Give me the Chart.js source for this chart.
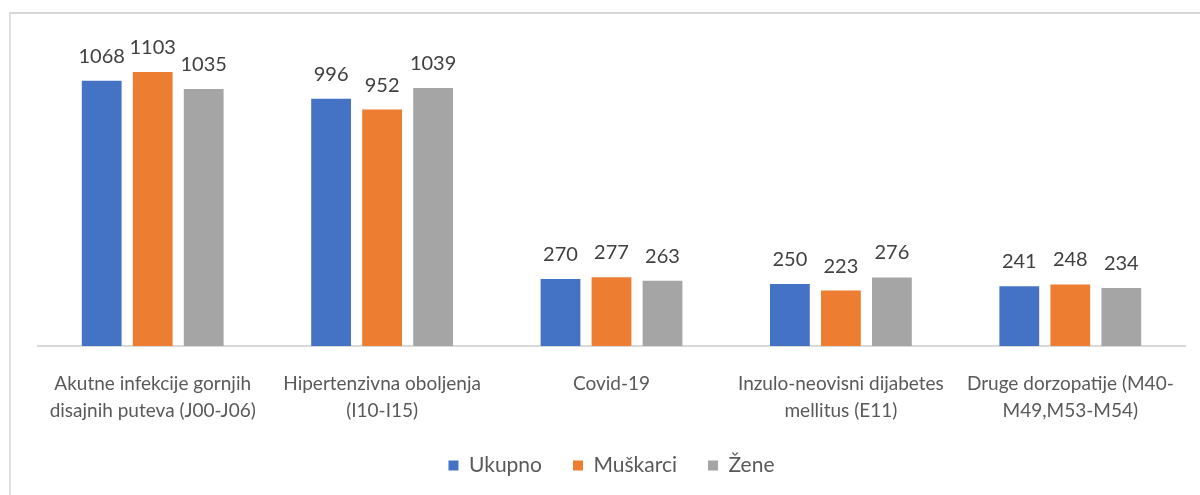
<!DOCTYPE html>
<html>
<head>
  <meta charset="UTF-8">
  <title>Oboljenja po polu</title>
  <script src="https://cdn.jsdelivr.net/npm/chart.js"></script>
  <style>
    body {
      margin: 0;
      background: white;
      font-family: Lato, Arial;
    }

    .frame {
      position: absolute;
      left: 9px;
      top: 12px;
      width: 1220px;
      height: 520px;
      border-top: 2px solid #d6d6d6;
      border-left: 2px solid #e0e0e0;
    }

    .wrap {
      position: absolute;
      left: 0;
      top: 0;
      width: 1200px;
      height: 495px;
    }
  </style>
</head>
<body>

  <div class="frame"></div>
  <div class="wrap"><canvas id="chart"></canvas></div>

  <script>
    const categories = [
      ['Akutne infekcije gornjih', 'disajnih puteva (J00-J06)'],
      ['Hipertenzivna oboljenja', '(I10-I15)'],
      'Covid-19',
      ['Inzulo-neovisni dijabetes', 'mellitus (E11)'],
      ['Druge dorzopatije (M40-', 'M49,M53-M54)']
    ];
    const ukupno = [1068, 996, 270, 250, 241];
    const muskarci = [1103, 952, 277, 223, 248];
    const zene = [1035, 1039, 263, 276, 234];

    // value labels above each bar
    const barLabels = {
      id: 'barLabels',
      afterDatasetsDraw(chart) {
        const ctx = chart.ctx;
        ctx.save();
        ctx.font = '20px Lato, Arial';
        ctx.fillStyle = '#404040';
        ctx.textAlign = 'center';
        ctx.textBaseline = 'alphabetic';
        chart.data.datasets.forEach((ds, i) => {
          chart.getDatasetMeta(i).data.forEach((bar, j) => {
            ctx.fillText(ds.data[j], bar.x, bar.y - 18);
          });
        });
        ctx.restore();
      }
    };

    new Chart(document.getElementById('chart'), {
      type: 'bar',
      data: {
        labels: categories,
        datasets: [
          { label: 'Ukupno', data: ukupno, backgroundColor: '#4472c4' },
          { label: 'Muškarci', data: muskarci, backgroundColor: '#ed7d31' },
          { label: 'Žene', data: zene, backgroundColor: '#a5a5a5' }
        ]
      },
      options: {
        responsive: true,
        maintainAspectRatio: false,
        animation: false,
        categoryPercentage: 0.667,
        barPercentage: 0.78,
        layout: {
          padding: { left: 38, right: 15, top: 48, bottom: 9 }
        },
        plugins: {
          legend: {
            position: 'bottom',
            labels: {
              boxWidth: 10,
              boxHeight: 10,
              padding: 31,
              color: '#595959',
              font: { family: 'Lato', size: 21 }
            }
          },
          tooltip: { enabled: false }
        },
        scales: {
          x: {
            grid: { display: false, drawTicks: false },
            border: { color: '#d9d9d9', width: 2 },
            ticks: {
              color: '#595959',
              font: { family: 'Lato', size: 19, lineHeight: '27px' },
              padding: 24,
              maxRotation: 0,
              autoSkip: false
            },
            // padding is only wanted above the labels
            afterFit(scale) {
              scale.height -= 24;
            }
          },
          y: {
            display: false,
            min: 0,
            max: 1200
          }
        }
      },
      plugins: [barLabels]
    });
  </script>

</body>
</html>
